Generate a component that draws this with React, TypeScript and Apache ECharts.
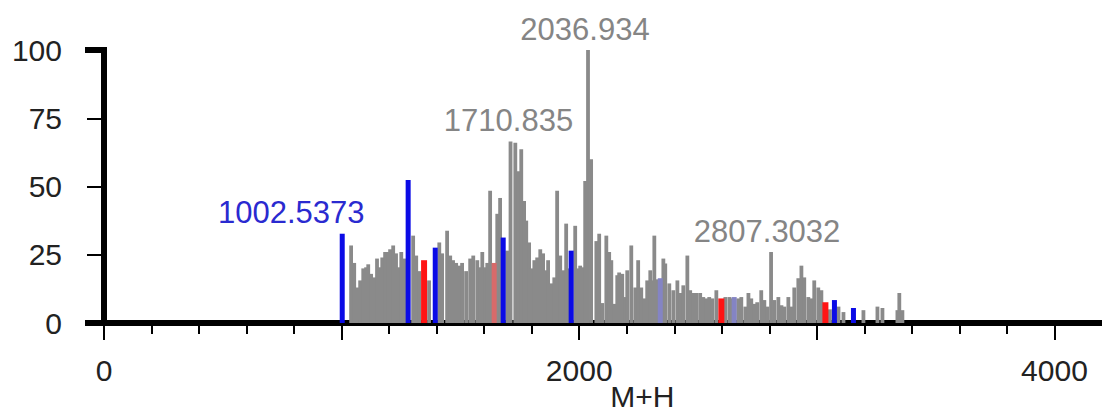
import React, { useEffect, useRef } from "react";
import * as echarts from "echarts";

// ---- data (m/z, relative intensity) ----
const grayMz: number[] = [
  1040, 1053, 1065, 1078, 1091, 1103, 1112, 1124, 1137, 1149, 1158, 1171, 1183, 1196, 1204, 1217,
  1229, 1238, 1251, 1263, 1301, 1314, 1326, 1368, 1411, 1423, 1444, 1457, 1469, 1482, 1495, 1507,
  1524, 1541, 1554, 1571, 1583, 1592, 1604, 1613, 1625, 1655, 1667, 1697, 1710.835, 1731, 1743, 1756,
  1768, 1777, 1789, 1798, 1811, 1823, 1836, 1848, 1857, 1869, 1882, 1895, 1907, 1920, 1933, 1945,
  1953, 1983, 1992, 2004, 2013, 2025, 2036.934, 2050, 2072, 2084, 2097, 2114, 2126, 2135, 2147, 2160,
  2168, 2181, 2194, 2202, 2219, 2236, 2248, 2261, 2274, 2286, 2299, 2307, 2316, 2327, 2354, 2362,
  2379, 2396, 2413, 2425, 2438, 2455, 2467, 2480, 2493, 2509, 2522, 2535, 2547, 2560, 2577, 2615,
  2632, 2640, 2669, 2682, 2699, 2712, 2724, 2737, 2749, 2766, 2779, 2792, 2807.3032, 2821, 2838, 2851,
  2863, 2880, 2893, 2905, 2922, 2935, 2947, 2964, 2977, 2989, 3006, 3019, 3055, 3091, 3112, 3196,
  3255, 3276, 3339, 3347, 3360,
];
const grayIntensity: number[] = [
  28.4, 22, 13, 15.6, 20, 20.4, 21.5, 18, 16.7, 23.6, 20.4, 24, 26, 26, 27, 28.4,
  25.5, 20.4, 26, 23.6, 32, 24.7, 19, 15.6, 29.5, 25.5, 33.8, 24.7, 23, 22, 21, 22,
  19, 23.6, 24.7, 23, 20.4, 26, 20.4, 22, 48.4, 40, 45.8, 26.5, 66.5, 66, 55.6, 63.6,
  44.7, 37.5, 29.5, 20, 23, 24, 27, 25.5, 19.3, 23, 14.5, 16.7, 48.4, 24.7, 19.3, 36.4,
  20, 35.6, 20, 21, 20.4, 52, 100, 60, 30, 32.7, 7.3, 32, 26, 23, 7, 17.5,
  18.5, 18, 9.5, 19.3, 28.4, 13, 23, 13, 9, 15.6, 19.3, 15.6, 32, 16, 23.6, 21.8,
  14.5, 12, 15.6, 11, 13.8, 24.7, 12, 11, 11, 11, 9.5, 9, 9.5, 9, 12, 9.5,
  9.5, 9, 9, 9.5, 6, 11, 9, 7, 7.6, 12, 8.4, 6, 26, 8.4, 9.5, 6.5,
  6, 9.5, 6, 13, 16.4, 21, 16.7, 9.5, 9, 15.6, 13, 12, 5, 6, 4, 4.7,
  6, 5.5, 4.7, 11, 4.7,
];
const blueMz: number[] = [1002.5373, 1280, 1394, 1680, 1966, 3074, 3154];
const blueIntensity: number[] = [32.7, 52.4, 27.6, 31.3, 26.5, 8.4, 5.5];
const redMz: number[] = [1347, 2598, 3036];
const redIntensity: number[] = [23, 9, 7.6];
const pinkMz: number[] = [1642];
const pinkIntensity: number[] = [22];
const lavenderMz: number[] = [2341, 2652];
const lavenderIntensity: number[] = [16.4, 9.5];

const labelMz: number[] = [1002.5373, 1710.835, 2036.934, 2807.3032];
const labelIntensity: number[] = [32.7, 66.5, 100, 26];
const labelText: string[] = ["1002.5373", "1710.835", "2036.934", "2807.3032"];
const labelKind: string[] = ["blue", "gray", "gray", "gray"];

const xMinorTicks: number[] = [
  0, 200, 400, 600, 800, 1000, 1200, 1400, 1600, 1800, 2000, 2200, 2400, 2600, 2800, 3000, 3200,
  3400, 3600, 3800, 4000,
];
const xMajorTicks: number[] = [0, 1000, 2000, 3000, 4000];
const xLabels: number[] = [0, 2000, 4000];
const xAxisName = "M+H";

// ---- styles ----
const FONT = "Liberation Sans, Arial, Helvetica, sans-serif";
const labelColors: Record<string, string> = { blue: "#2a2ad0", gray: "#858585" };
const labelShiftX: number[] = [-51, -2, -3, -4];
const labelShiftY = -21;

const zip = (a: number[], b: number[]) => a.map((v, i) => [v, b[i]]);

function barSeries(name: string, mz: number[], inten: number[], color: string, width: number, z: number) {
  return {
    type: "custom",
    name,
    z,
    xAxisIndex: 0,
    yAxisIndex: 0,
    data: zip(mz, inten),
    encode: { x: 0, y: 1 },
    renderItem: (_p: any, api: any) => {
      const top = api.coord([api.value(0), api.value(1)]);
      const base = api.coord([api.value(0), 0]);
      return {
        type: "rect",
        shape: { x: top[0] - width / 2, y: top[1], width, height: base[1] - top[1] },
        style: { fill: color },
      };
    },
  };
}

export default function App() {
  const ref = useRef<HTMLDivElement>(null);
  useEffect(() => {
    if (!ref.current) return;
    const chart = echarts.init(ref.current, null, { renderer: "svg" });
    const option: any = {
      animation: false,
      grid: { left: 104, right: 0, top: 50, bottom: 89, containLabel: false },
      xAxis: [
        {
          type: "value",
          min: 0,
          max: 4200,
          interval: 200,
          position: "bottom",
          axisLine: { show: true, lineStyle: { color: "#000", width: 6 } },
          axisTick: { show: true, customValues: xMinorTicks, length: 11, lineStyle: { color: "#000", width: 2 } },
          axisLabel: {
            show: true,
            customValues: xLabels,
            formatter: (v: number) => String(v),
            fontSize: 30,
            color: "#222",
            margin: 32,
            fontFamily: FONT,
          },
          splitLine: { show: false },
        },
        {
          type: "value",
          min: 0,
          max: 4200,
          interval: 200,
          position: "bottom",
          axisLine: { show: false },
          axisTick: { show: true, customValues: xMajorTicks, length: 17, lineStyle: { color: "#000", width: 2 } },
          axisLabel: { show: false },
          splitLine: { show: false },
        },
      ],
      yAxis: {
        type: "value",
        min: 0,
        max: 100,
        interval: 25,
        axisLine: { show: true, lineStyle: { color: "#000", width: 6 } },
        axisTick: { show: true, length: 17, lineStyle: { color: "#000", width: 2 } },
        axisLabel: { fontSize: 30, color: "#222", margin: 42, fontFamily: FONT },
        splitLine: { show: false },
      },
      series: [
        barSeries("other", grayMz, grayIntensity, "#8a8a8a", 3.8, 2),
        barSeries("lavender", lavenderMz, lavenderIntensity, "#8484c4", 5, 3),
        barSeries("pink", pinkMz, pinkIntensity, "#d86a6a", 5, 3),
        barSeries("red", redMz, redIntensity, "#ff1414", 6, 4),
        barSeries("blue", blueMz, blueIntensity, "#0b0be6", 5, 5),
        {
          type: "custom",
          name: "labels",
          z: 6,
          data: zip(labelMz, labelIntensity),
          encode: { x: 0, y: 1 },
          renderItem: (p: any, api: any) => {
            const i = p.dataIndex;
            const pt = api.coord([api.value(0), api.value(1)]);
            return {
              type: "text",
              x: pt[0] + labelShiftX[i],
              y: pt[1] + labelShiftY,
              style: {
                text: labelText[i],
                fill: labelColors[labelKind[i]],
                fontSize: 31,
                fontFamily: FONT,
                align: "center",
                verticalAlign: "middle",
              },
            };
          },
        },
      ],
    };
    chart.setOption(option);
    const p100 = chart.convertToPixel({ gridIndex: 0 }, [0, 100]) as number[];
    const p0 = chart.convertToPixel({ gridIndex: 0 }, [0, 0]) as number[];
    const pName = chart.convertToPixel({ gridIndex: 0 }, [2000, 0]) as number[];
    chart.setOption({
      graphic: [
        { type: "line", shape: { x1: p100[0] - 19, y1: p100[1], x2: p100[0] + 3, y2: p100[1] }, style: { stroke: "#000", lineWidth: 6 }, z: 10 },
        { type: "line", shape: { x1: p0[0] - 19, y1: p0[1], x2: p0[0], y2: p0[1] }, style: { stroke: "#000", lineWidth: 6 }, z: 10 },
        {
          type: "text",
          x: pName[0] + 31,
          y: p0[1] + 88,
          style: { text: xAxisName, fill: "#222", fontSize: 30, fontFamily: FONT, align: "left", verticalAlign: "bottom" },
          z: 10,
        },
      ],
    });
    return () => chart.dispose();
  }, []);
  return (
    <div
      ref={ref}
      style={{ position: "fixed", left: 0, top: 0, width: 1102, height: 412, background: "#fff" }}
    />
  );
}
